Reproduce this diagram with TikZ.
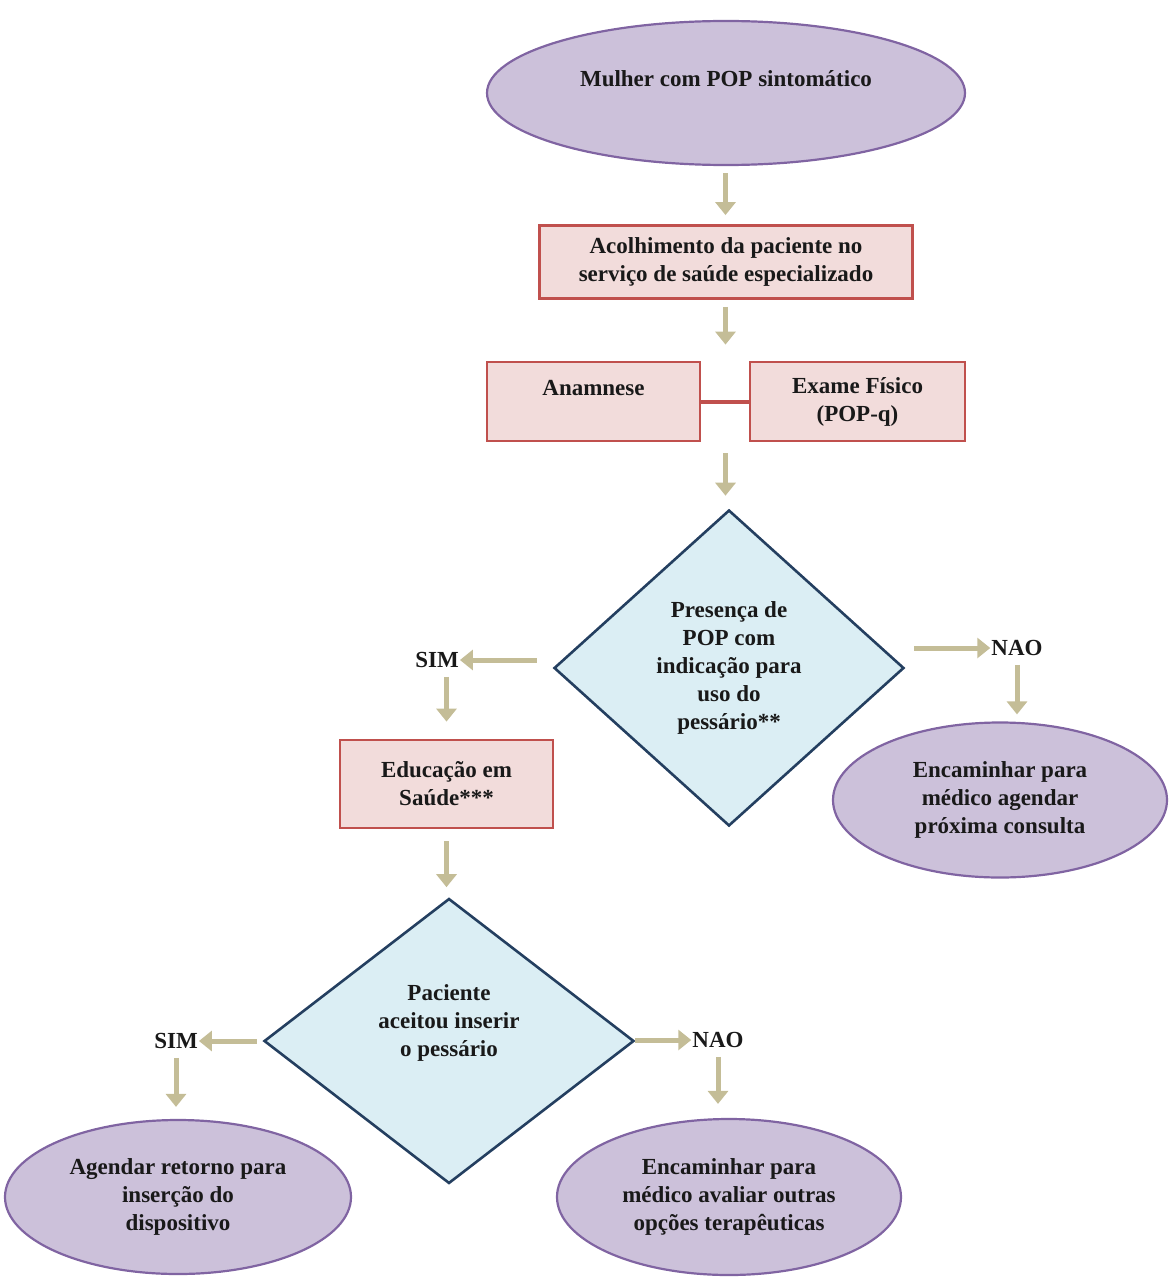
\documentclass[tikz,border=0pt]{standalone}
\usepackage{fontspec}
\setmainfont{Liberation Serif}
\usetikzlibrary{shapes.geometric,arrows.meta,calc}
\definecolor{ellfill}{HTML}{CCC1DA}
\definecolor{elldraw}{HTML}{8064A2}
\definecolor{recfill}{HTML}{F2DCDB}
\definecolor{recdraw}{HTML}{C0504D}
\definecolor{diafill}{HTML}{DBEEF4}
\definecolor{diadraw}{HTML}{243F60}
\definecolor{arrcol}{HTML}{C4BD97}
\begin{document}
\begin{tikzpicture}[x=1pt,y=-1pt,
  every node/.style={font=\bfseries\fontsize{23}{28}\selectfont, align=center, text=black!90},
  ell/.style={ellipse, draw=elldraw, fill=ellfill, line width=2.2pt, inner sep=0pt},
  rec/.style={rectangle, draw=recdraw, fill=recfill, line width=2.8pt, inner sep=0pt},
  dia/.style={diamond, draw=diadraw, fill=diafill, line width=2.6pt, inner sep=0pt},
  lbl/.style={inner sep=1pt},
  arr/.style={draw=arrcol, line width=5pt, -{Triangle[width=20pt,length=13pt]}},
]
\path[use as bounding box] (0,0) rectangle (1169,1279);

% nodes
\node[ell, minimum width=478pt, minimum height=144pt] (e1) at (726,93) {Mulher com POP sintomático\\ \mbox{}};
\node[rec, minimum width=373pt, minimum height=73pt] (r1) at (726,262) {Acolhimento da paciente no\\serviço de saúde especializado};
\node[rec, minimum width=213pt, minimum height=79pt] (r2) at (593.5,401.5) {Anamnese\\ \mbox{}};
\node[rec, minimum width=215pt, minimum height=79pt] (r3) at (857.5,401.5) {Exame Físico\\(POP-q)};
\coordinate (rowtop) at ($(r2.north)!0.5!(r3.north)$);
\coordinate (rowbot) at ($(r2.south)!0.5!(r3.south)$);

\node[dia, minimum width=350pt, minimum height=316pt, aspect=1.1] (d1) at (729,668) {Presença de\\POP com\\indicação para\\uso do\\pessário**};
\node[lbl] (sim1) at (437,660) {SIM};
\node[lbl] (nao1) at (1017,648) {NAO};
\node[rec, minimum width=213pt, minimum height=88pt] (ed) at (446.5,784) {Educação em\\Saúde***};
\node[ell, minimum width=334pt, minimum height=155pt] (e2) at (1000,800) {Encaminhar para\\médico agendar\\próxima consulta};

\node[dia, minimum width=370pt, minimum height=285pt, aspect=1.3] (d2) at (449,1041) {Paciente\\aceitou inserir\\o pessário\\[12pt]\mbox{}};
\node[lbl] (sim2) at (176,1041) {SIM};
\node[lbl] (nao2) at (718,1040) {NAO};
\node[ell, minimum width=346pt, minimum height=154pt] (e3) at (178,1197) {Agendar retorno para\\inserção do\\dispositivo};
\node[ell, minimum width=344pt, minimum height=156pt] (e4) at (729,1197) {Encaminhar para\\médico avaliar outras\\opções terapêuticas};

% connectors
\draw[draw=recdraw, line width=4pt] (r2.east) -- (r3.west);
\draw[arr, shorten <=7pt, shorten >=9pt] (e1.south -| rowtop) -- (r1.north -| rowtop);
\draw[arr, shorten <=7pt, shorten >=16pt] (r1.south -| rowtop) -- (rowtop);
\draw[arr, shorten <=11pt, shorten >=13pt] (rowbot) -- (rowbot |- d1.north);
\draw[arr, shorten <=16pt, shorten >=0pt] (sim1.east -| d1.west) -- (sim1.east);
\draw[arr, shorten <=9pt, shorten >=0pt] (nao1.west -| d1.east) -- (nao1.west);
\draw[arr, shorten <=8pt, shorten >=17pt] (ed.north |- sim1.south) -- (ed.north);
\draw[arr, shorten <=8pt, shorten >=7pt] (nao1.south) -- (nao1.south |- e2.north);
\draw[arr, shorten <=12pt, shorten >=10pt] (ed.south) -- (ed.south |- d2.north);
\draw[arr, shorten <=6pt, shorten >=0pt] (sim2.east -| d2.west) -- (sim2.east);
\draw[arr, shorten <=0pt, shorten >=0pt] (nao2.west -| d2.east) -- (nao2.west);
\draw[arr, shorten <=8pt, shorten >=12pt] (sim2.south) -- (sim2.south |- e3.north);
\draw[arr, shorten <=8pt, shorten >=14pt] (nao2.south) -- (nao2.south |- e4.north);
\end{tikzpicture}
\end{document}
